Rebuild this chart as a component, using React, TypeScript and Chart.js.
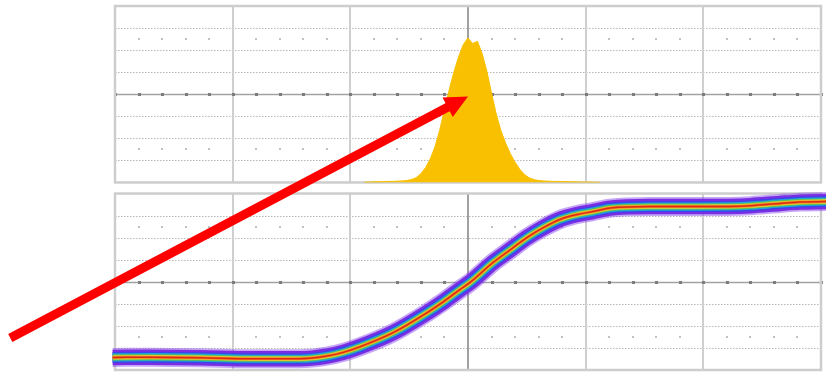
import { useEffect, useRef } from "react";
import { Chart, registerables } from "chart.js";

Chart.register(...registerables);

// Graticule: 6 horizontal and 8 vertical divisions per panel
const X_DIVISIONS = [-3, -2, -1, 0, 1, 2, 3];
const Y_DIVISIONS = [0, 1, 2, 3, 4, 5, 6, 7, 8];
const MINOR_STEP = 0.2;
const DOT_ROWS = [1.5, 6.5];

// Histogram of edge crossing times (top panel), in divisions
const HIST_FIRST_BIN = -0.88;
const HIST_BIN_WIDTH = 0.04;
const HIST_COUNTS = [
  0.02, 0.02, 0.03, 0.03, 0.04, 0.05, 0.05, 0.06, 0.07, 0.09,
  0.13, 0.22, 0.4, 0.68, 1.08, 1.63, 2.38, 3.3, 4.2, 5.0,
  5.7, 6.25, 6.55, 6.3, 6.4, 5.85, 5.05, 4.05, 3.1, 2.35,
  1.78, 1.3, 0.92, 0.6, 0.36, 0.21, 0.13, 0.09, 0.07, 0.06,
  0.05, 0.05, 0.04, 0.04, 0.03, 0.03, 0.02, 0.02, 0.02, 0.01, 0.01,
];

// Rising edge persistence trace (bottom panel)
const EDGE_TIME = [
  -3.02, -2.7, -2.28, -1.85, -1.43, -1.2, -1.06, -0.92, -0.64, -0.35,
  -0.21, -0.07, 0.02, 0.21, 0.36, 0.5, 0.64, 0.78, 0.93, 1.06,
  1.21, 1.55, 1.97, 2.4, 2.65, 2.82, 3.05,
];
const EDGE_LEVEL = [
  0.57, 0.58, 0.56, 0.51, 0.51, 0.63, 0.8, 1.05, 1.68, 2.59,
  3.09, 3.64, 3.98, 4.86, 5.45, 6.0, 6.45, 6.82, 7.05, 7.18,
  7.34, 7.41, 7.41, 7.45, 7.55, 7.61, 7.64,
];

// Persistence layers, from rare hits (outside) to frequent hits (centre)
const PERSIST_COLORS = ["rgba(128,60,235,0.45)", "#7a2ee4", "#3b45ea", "#22a6d4", "#63c04b", "#e8d23c", "#f2861e", "#de2a12"];
const PERSIST_WIDTHS = [19, 15.5, 11, 8.2, 6, 4.3, 3, 1.5];

const HIST_COLOR = "#f8c000";

// Pointer arrow: tail in the trace panel, head on the histogram
const ARROW_TAIL = { x: -3.89, y: 1.45 };
const ARROW_HEAD = { x: 0, y: 3.9 };
const ARROW_COLOR = "#ff0000";

const graticule = {
  id: "graticule",
  beforeDatasetsDraw(chart: any) {
    const { ctx } = chart;
    const xs = chart.scales.x;
    const px = (v: number) => xs.getPixelForValue(v);
    ctx.save();
    for (const id of ["yt", "yb"]) {
      const ys = chart.scales[id];
      const py = (v: number) => ys.getPixelForValue(v);
      const left = px(X_DIVISIONS[0]);
      const right = px(X_DIVISIONS[X_DIVISIONS.length - 1]);
      const top = py(Y_DIVISIONS[Y_DIVISIONS.length - 1]);
      const bottom = py(Y_DIVISIONS[0]);

      // dotted horizontal division lines
      ctx.setLineDash([1.5, 1.5]);
      ctx.strokeStyle = "#b8b8b8";
      ctx.lineWidth = 1.2;
      for (const v of Y_DIVISIONS.slice(1, -1)) {
        if (v === 4) continue;
        const y = Math.round(py(v)) + 0.5;
        ctx.beginPath();
        ctx.moveTo(left, y);
        ctx.lineTo(right, y);
        ctx.stroke();
      }
      ctx.setLineDash([]);

      // vertical division lines
      for (const v of X_DIVISIONS.slice(1, -1)) {
        const x = Math.round(px(v));
        ctx.strokeStyle = v === 0 ? "#8a8a8a" : "#cfcfcf";
        ctx.lineWidth = v === 0 ? 1.6 : 2;
        ctx.beginPath();
        ctx.moveTo(x, top);
        ctx.lineTo(x, bottom);
        ctx.stroke();
      }

      // centre horizontal line with minor tick marks
      const yc = Math.round(py(4)) + 0.5;
      ctx.strokeStyle = "#a2a2a2";
      ctx.lineWidth = 1.5;
      ctx.beginPath();
      ctx.moveTo(left, yc);
      ctx.lineTo(right, yc);
      ctx.stroke();
      ctx.fillStyle = "#7c7c7c";
      for (let t = X_DIVISIONS[0]; t <= X_DIVISIONS[X_DIVISIONS.length - 1] + 1e-6; t += MINOR_STEP) {
        const x = px(t);
        ctx.fillRect(Math.round(x) - 1, yc - 1.5, 3, 3);
      }

      // faint minor dots on two rows
      ctx.fillStyle = "#c2c2c2";
      for (const r of DOT_ROWS) {
        const y = Math.round(py(r));
        for (let t = X_DIVISIONS[0]; t <= X_DIVISIONS[X_DIVISIONS.length - 1] + 1e-6; t += MINOR_STEP) {
          const k = Math.round(t / MINOR_STEP);
          if (k % 5 === 0) continue;
          ctx.fillRect(Math.round(px(t)) - 1, y - 1, 2, 2);
        }
      }

      // panel border
      ctx.strokeStyle = "#cdcdcd";
      ctx.lineWidth = 2.5;
      ctx.strokeRect(left, top, right - left, bottom - top);
    }
    ctx.restore();
  },
};

const pointer = {
  id: "pointer",
  afterDraw(chart: any) {
    const { ctx } = chart;
    const xs = chart.scales.x;
    const x0 = xs.getPixelForValue(ARROW_TAIL.x);
    const y0 = chart.scales.yb.getPixelForValue(ARROW_TAIL.y);
    const x1 = xs.getPixelForValue(ARROW_HEAD.x);
    const y1 = chart.scales.yt.getPixelForValue(ARROW_HEAD.y);
    const len = Math.hypot(x1 - x0, y1 - y0);
    const ux = (x1 - x0) / len;
    const uy = (y1 - y0) / len;
    const nx = -uy;
    const ny = ux;
    const headLen = 23;
    const headHalf = 11;
    const bx = x1 - ux * headLen;
    const by = y1 - uy * headLen;
    ctx.save();
    ctx.strokeStyle = ARROW_COLOR;
    ctx.fillStyle = ARROW_COLOR;
    ctx.lineWidth = 9;
    ctx.lineCap = "butt";
    ctx.beginPath();
    ctx.moveTo(x0, y0);
    ctx.lineTo(bx + ux * 2, by + uy * 2);
    ctx.stroke();
    ctx.beginPath();
    ctx.moveTo(x1, y1);
    ctx.lineTo(bx + nx * headHalf, by + ny * headHalf);
    ctx.lineTo(bx - nx * headHalf, by - ny * headHalf);
    ctx.closePath();
    ctx.fill();
    ctx.restore();
  },
};

export default function App() {
  const canvasRef = useRef<HTMLCanvasElement | null>(null);

  useEffect(() => {
    const canvas = canvasRef.current;
    if (!canvas) return;

    const histData = HIST_COUNTS.map((c, i) => ({ x: HIST_FIRST_BIN + i * HIST_BIN_WIDTH, y: c }));
    const edgeData = EDGE_TIME.map((t, i) => ({ x: t, y: EDGE_LEVEL[i] }));

    const layers = PERSIST_COLORS.map((color, i) => ({
      type: "line" as const,
      data: edgeData,
      yAxisID: "yb",
      borderColor: color,
      borderWidth: PERSIST_WIDTHS[i],
      borderCapStyle: "butt" as const,
      borderJoinStyle: "round" as const,
      cubicInterpolationMode: "monotone" as const,
      pointRadius: 0,
      fill: false,
      clip: false as any,
      order: 20 - i,
    }));

    const chart = new Chart(canvas, {
      type: "line",
      data: {
        datasets: [
          {
            data: histData,
            yAxisID: "yt",
            fill: "origin",
            backgroundColor: HIST_COLOR,
            borderColor: HIST_COLOR,
            borderWidth: 1,
            tension: 0,
            pointRadius: 0,
            order: 30,
          } as any,
          ...layers,
        ],
      },
      options: {
        animation: false,
        responsive: false,
        devicePixelRatio: 1,
        layout: { padding: { left: 115, right: 5, top: 6, bottom: 3 } },
        plugins: {
          legend: { display: false },
          tooltip: { enabled: false },
        },
        events: [],
        scales: {
          x: { type: "linear", min: -3, max: 3, display: false },
          yt: {
            type: "linear", min: 0, max: 8, display: false,
            position: "left", stack: "panels", stackWeight: 8, weight: 2,
          },
          yg: {
            type: "linear", min: 0, max: 1, display: false,
            position: "left", stack: "panels", stackWeight: 0.5, weight: 1,
          },
          yb: {
            type: "linear", min: 0, max: 8, display: false,
            position: "left", stack: "panels", stackWeight: 8, weight: 0,
          },
        } as any,
      },
      plugins: [graticule, pointer],
    });

    return () => chart.destroy();
  }, []);

  return (
    <div style={{ position: "fixed", left: 0, top: 0, width: 826, height: 373, background: "#ffffff" }}>
      <canvas ref={canvasRef} width={826} height={373} style={{ display: "block", width: 826, height: 373 }} />
    </div>
  );
}
